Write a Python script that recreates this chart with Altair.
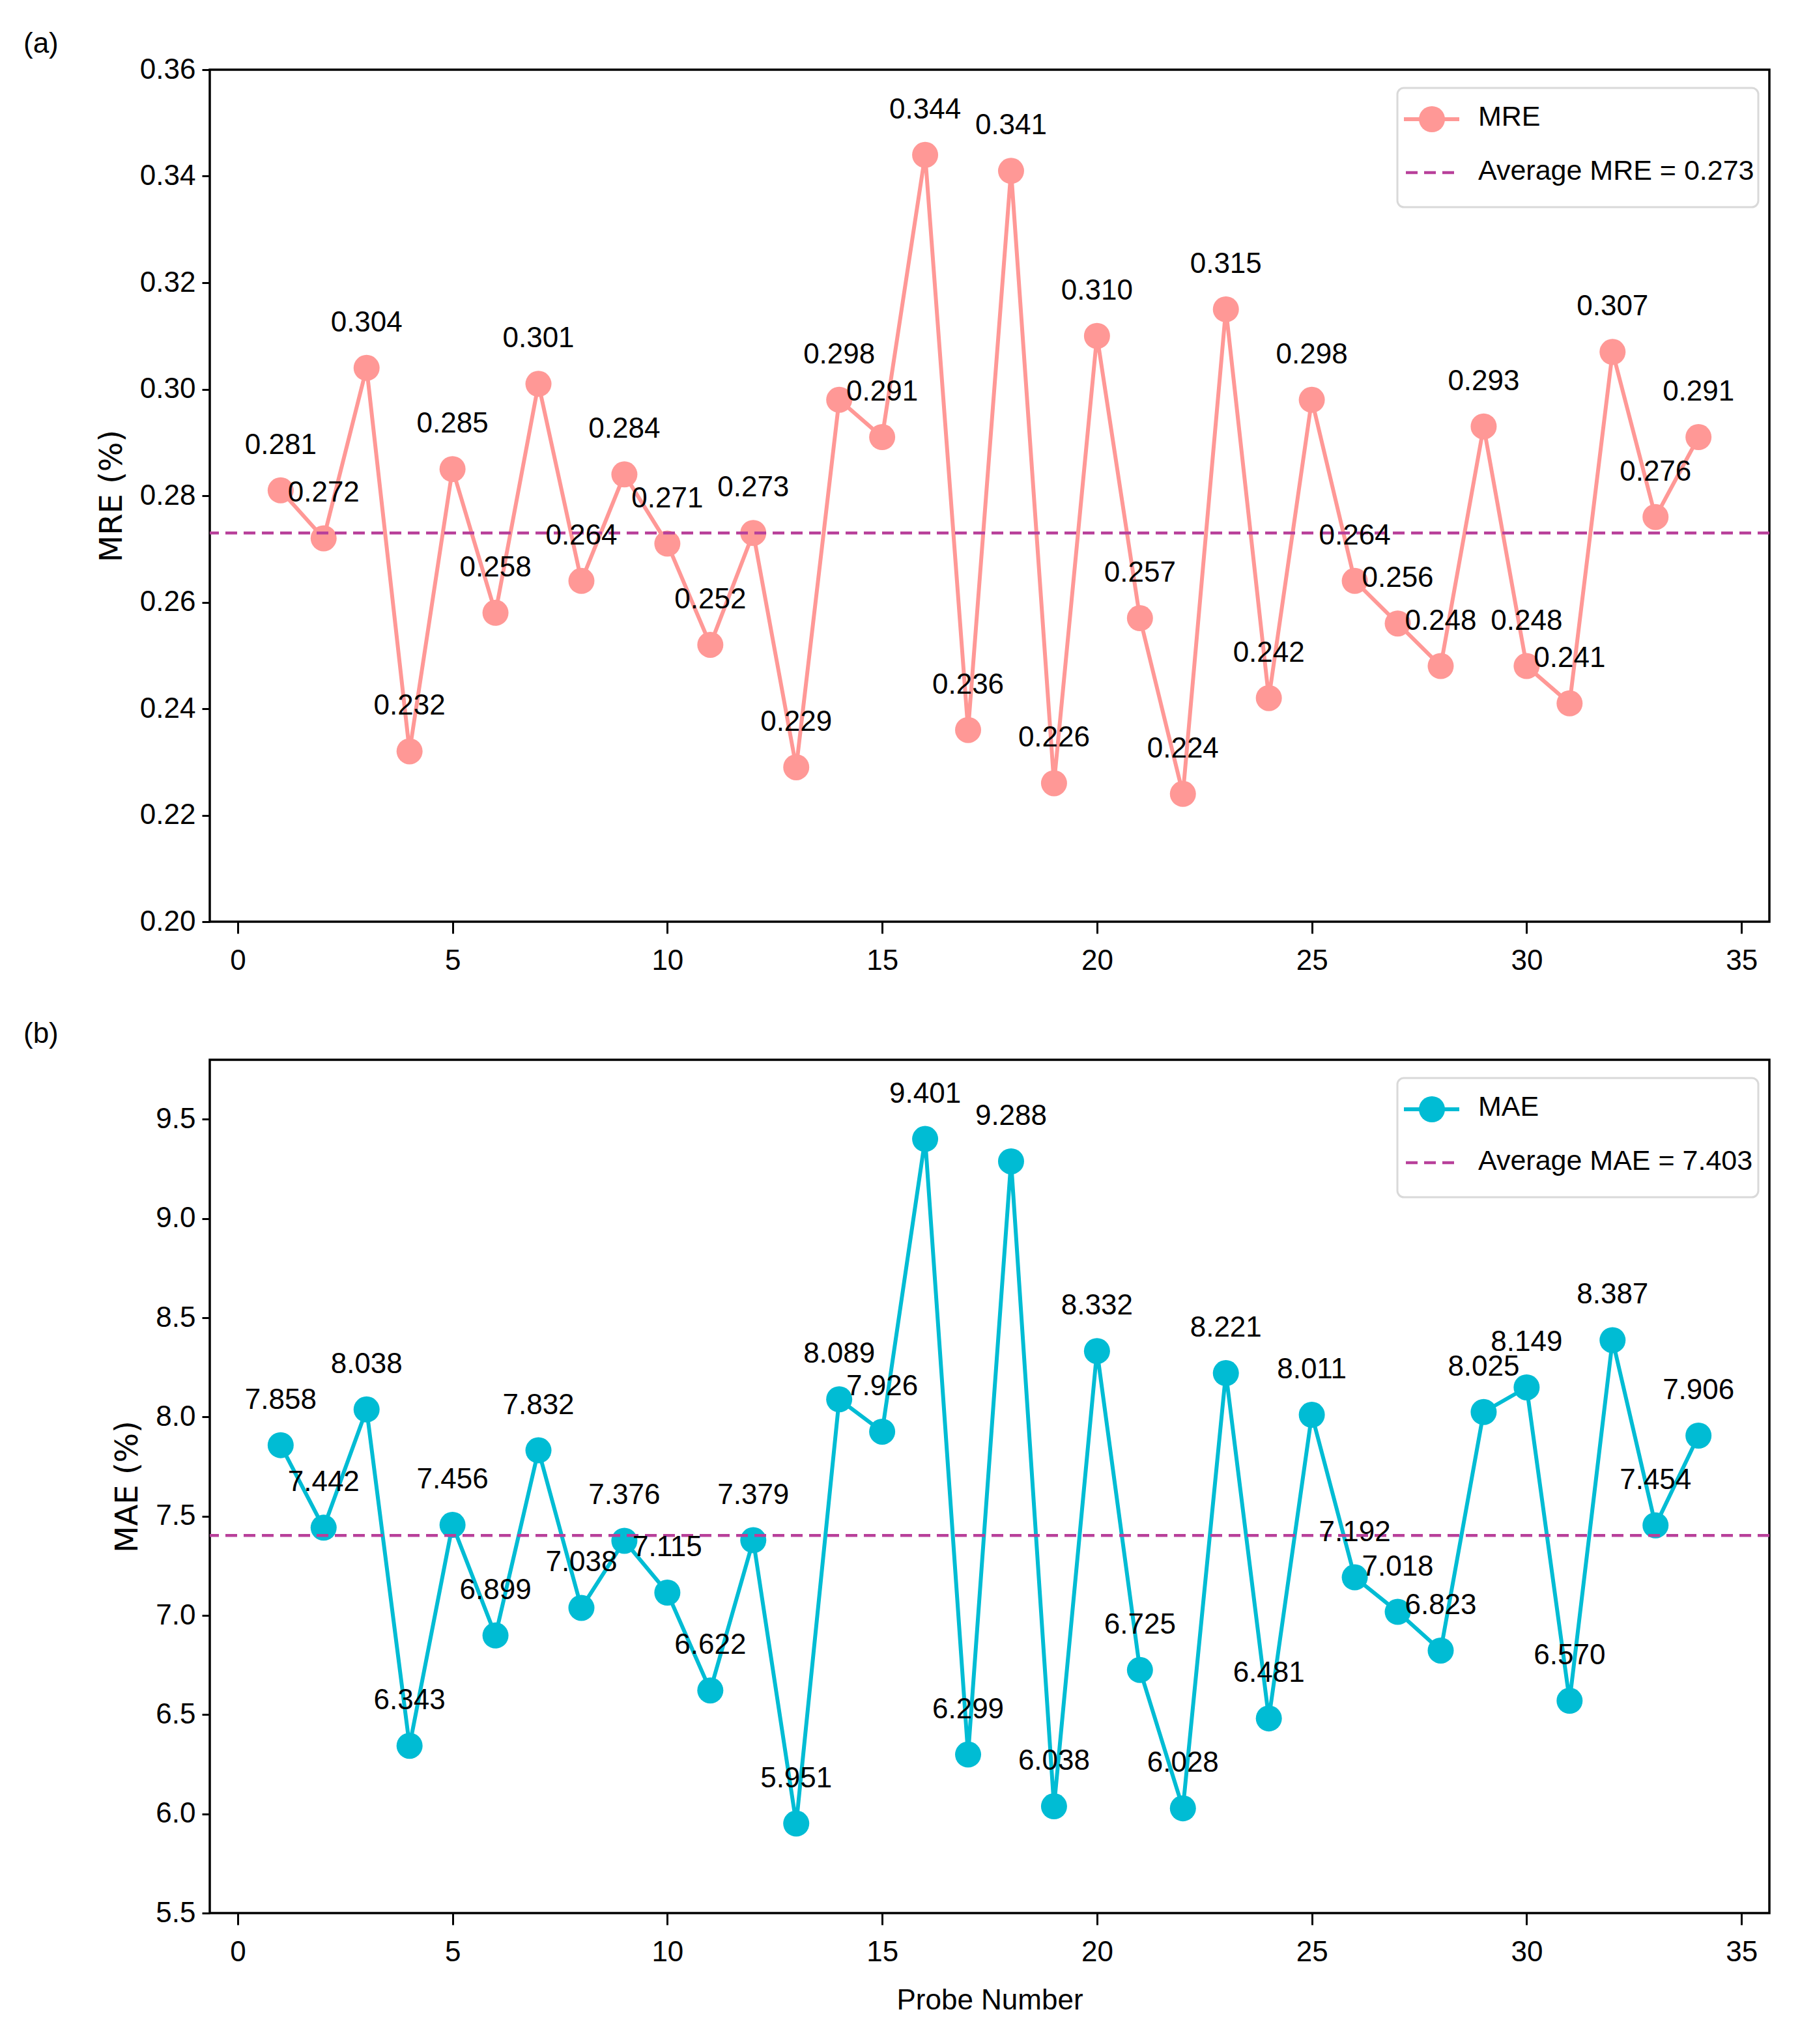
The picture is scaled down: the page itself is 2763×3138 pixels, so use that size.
import altair as alt
import pandas as pd

probe = list(range(1, 35))
mre = [0.281, 0.272, 0.304, 0.232, 0.285, 0.258, 0.301, 0.264, 0.284, 0.271,
       0.252, 0.273, 0.229, 0.298, 0.291, 0.344, 0.236, 0.341, 0.226, 0.310,
       0.257, 0.224, 0.315, 0.242, 0.298, 0.264, 0.256, 0.248, 0.293, 0.248,
       0.241, 0.307, 0.276, 0.291]
mae = [7.858, 7.442, 8.038, 6.343, 7.456, 6.899, 7.832, 7.038, 7.376, 7.115,
       6.622, 7.379, 5.951, 8.089, 7.926, 9.401, 6.299, 9.288, 6.038, 8.332,
       6.725, 6.028, 8.221, 6.481, 8.011, 7.192, 7.018, 6.823, 8.025, 8.149,
       6.570, 8.387, 7.454, 7.906]
mre_avg = 0.273
mae_avg = 7.403
mre_ticks = [0.20, 0.22, 0.24, 0.26, 0.28, 0.30, 0.32, 0.34, 0.36]
mae_ticks = [5.5, 6.0, 6.5, 7.0, 7.5, 8.0, 8.5, 9.0, 9.5]
x_ticks = [0, 5, 10, 15, 20, 25, 30, 35]

FONT = "Liberation Sans"
TFONT = "DejaVu Sans"
AVG_COLOR = "#B8409A"
W = 2394
FS = 44


def panel(values, avg, color, name, yticks, ydomain, fmt, plabel, height, xtitle):
    df = pd.DataFrame({"probe": probe, "value": values})
    xs = alt.Scale(domain=[-0.65, 35.65], nice=False, zero=False)
    ys = alt.Scale(domain=ydomain, nice=False, zero=False)
    xax = alt.Axis(values=x_ticks, title=xtitle, grid=False, tickSize=18,
                   labelPadding=20, titlePadding=30, titleFont=FONT,
                   titleFontSize=FS, titleFontWeight="normal", labelFlush=False,
                   domain=False, tickColor="black", tickWidth=3,
                   labelColor="black", labelFont=FONT, labelFontSize=FS,
                   titleColor="black")
    yax = alt.Axis(values=yticks, format=fmt, title=f"{name} (%)", grid=False,
                   tickSize=12, labelPadding=10, titlePadding=18,
                   titleFont=TFONT, titleFontSize=48, titleFontWeight="normal",
                   domain=False, tickColor="black", tickWidth=3,
                   labelColor="black", labelFont=FONT, labelFontSize=FS,
                   titleColor="black", labelFlush=False)
    x = alt.X("probe:Q", scale=xs, axis=xax)
    y = alt.Y("value:Q", scale=ys, axis=yax)
    base = alt.Chart(df)
    line = base.mark_line(color=color, strokeWidth=6).encode(x=x, y=y)
    pts = base.mark_point(filled=True, shape="circle", size=1600, color=color,
                          opacity=1).encode(x=x, y=y)
    txt = base.mark_text(font=FONT, fontSize=FS, dy=-56, baseline="alphabetic",
                         align="center", color="black").encode(
        x=x, y=y, text=alt.Text("value:Q", format=".3f"))
    avg_df = pd.DataFrame({"avg": [avg]})
    rule = alt.Chart(avg_df).mark_rule(color=AVG_COLOR, strokeWidth=4.5,
                                       strokeDash=[18, 10]).encode(
        y=alt.Y("avg:Q", scale=ys, axis=yax))
    one = alt.Chart(pd.DataFrame({"k": [0]}))
    box = one.mark_rect(fill="white", fillOpacity=0.85, stroke="#d9d9d9",
                        strokeWidth=3, cornerRadius=10).encode(
        x=alt.value(1823), x2=alt.value(2377), y=alt.value(28), y2=alt.value(211))
    leg_line = one.mark_rule(color=color, strokeWidth=6).encode(
        x=alt.value(1833), x2=alt.value(1918), y=alt.value(76))
    leg_pt = one.mark_point(filled=True, shape="circle", size=1600, color=color,
                            opacity=1).encode(x=alt.value(1876), y=alt.value(76))
    leg_t1 = one.mark_text(font=FONT, fontSize=43, align="left", baseline="middle",
                           color="black").encode(
        x=alt.value(1947), y=alt.value(73), text=alt.value(name))
    leg_dash = one.mark_rule(color=AVG_COLOR, strokeWidth=4.5,
                             strokeDash=[18, 10]).encode(
        x=alt.value(1836), x2=alt.value(1913), y=alt.value(158))
    leg_t2 = one.mark_text(font=FONT, fontSize=43, align="left", baseline="middle",
                           color="black").encode(
        x=alt.value(1947), y=alt.value(156),
        text=alt.value(f"Average {name} = {avg:.3f}"))
    lab = one.mark_text(font=FONT, fontSize=44, align="left", baseline="middle",
                        color="black").encode(
        x=alt.value(-286), y=alt.value(-39), text=alt.value(plabel))
    return alt.layer(line, pts, rule, txt, box, leg_line, leg_pt, leg_t1,
                     leg_dash, leg_t2, lab).properties(width=W, height=height)


top = panel(mre, mre_avg, "#FF9896", "MRE", mre_ticks, [0.20, 0.36], ".2f",
            "(a)", 1308, None)
bottom = panel(mae, mae_avg, "#00BCD4", "MAE", mae_ticks, [5.5, 9.8], ".1f",
               "(b)", 1310, "Probe Number")

chart = alt.vconcat(top, bottom, spacing=212, bounds="flush").properties(
    padding={"left": 26, "top": 36, "right": 10, "bottom": 10}
).configure_view(stroke="black", strokeWidth=3.5)

chart.save("out.html", embed_options={"renderer": "svg", "actions": False})
